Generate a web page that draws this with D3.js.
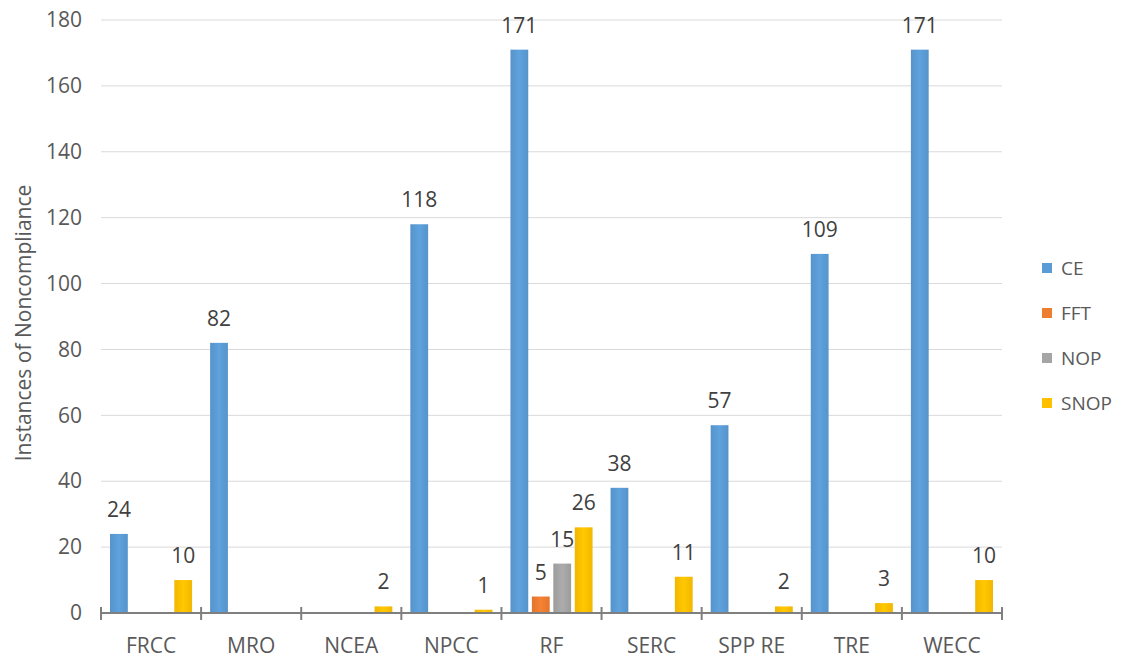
<!DOCTYPE html>
<html>
<head>
<meta charset="utf-8">
<script src="https://cdn.jsdelivr.net/npm/d3@7"></script>
<style>
  html, body { margin: 0; padding: 0; background: #fff; }
  svg { display: block; font-family: "Open Sans", "Noto Sans", sans-serif; }
</style>
</head>
<body>
<svg id="chart" width="1122" height="658"></svg>
<script>
const categories = ["FRCC", "MRO", "NCEA", "NPCC", "RF", "SERC", "SPP RE", "TRE", "WECC"];
const seriesNames = ["CE", "FFT", "NOP", "SNOP"];
const ceValues   = [24, 82, 0, 118, 171, 38, 57, 109, 171];
const fftValues  = [0, 0, 0, 0, 5, 0, 0, 0, 0];
const nopValues  = [0, 0, 0, 0, 15, 0, 0, 0, 0];
const snopValues = [10, 0, 2, 1, 26, 11, 2, 3, 10];
const yTicks = [0, 20, 40, 60, 80, 100, 120, 140, 160, 180];
const yTitle = "Instances of Noncompliance";

(function () {
const colors = { CE: "#5B9BD5", FFT: "#ED7D31", NOP: "#A5A5A5", SNOP: "#FFC000" };
const seriesValues = { CE: ceValues, FFT: fftValues, NOP: nopValues, SNOP: snopValues };

const svg = d3.select("#chart");
const mLeft = 101, mRight = 1002, mTop = 20, mBottom = 613;

const y = d3.scaleLinear().domain([0, 180]).range([mBottom, mTop]);
const x0 = d3.scaleBand().domain(categories).range([mLeft, mRight]).padding(0);
const x1 = d3.scaleBand().domain(seriesNames)
  .range([x0.step() * 0.09, x0.step() * 0.91]).paddingInner(0.17);

const defs = svg.append("defs");
seriesNames.forEach(s => {
  const g = defs.append("linearGradient").attr("id", "g-" + s)
    .attr("x1", "0").attr("x2", "1").attr("y1", "0").attr("y2", "0");
  const c = d3.color(colors[s]);
  g.append("stop").attr("offset", "0%").attr("stop-color", c.darker(0.15));
  g.append("stop").attr("offset", "50%").attr("stop-color", c.brighter(0.12));
  g.append("stop").attr("offset", "100%").attr("stop-color", c.darker(0.15));
});

svg.append("g")
  .selectAll("line").data(yTicks.filter(t => t > 0)).join("line")
  .attr("x1", mLeft).attr("x2", mRight)
  .attr("y1", d => y(d)).attr("y2", d => y(d))
  .attr("stroke", "#d9d9d9").attr("stroke-width", 1);

const yAxis = d3.axisLeft(y).tickValues(yTicks).tickSize(0).tickPadding(0);
const yg = svg.append("g").attr("transform", `translate(${mLeft - 19},0)`).call(yAxis);
yg.select(".domain").remove();
yg.selectAll("text").attr("font-size", 21).attr("fill", "#595959")
  .attr("font-family", "'Open Sans', sans-serif");

svg.append("text")
  .attr("transform", `translate(31,323) rotate(-90)`)
  .attr("text-anchor", "middle")
  .attr("font-size", 21).attr("fill", "#595959")
  .text(yTitle);

const groups = svg.append("g").selectAll("g").data(categories).join("g")
  .attr("transform", d => `translate(${x0(d)},0)`);

groups.each(function(cat, i) {
  const g = d3.select(this);
  seriesNames.forEach(s => {
    const v = seriesValues[s][i];
    if (v <= 0) return;
    g.append("rect")
      .attr("x", x1(s)).attr("width", x1.bandwidth())
      .attr("y", y(v)).attr("height", y(0) - y(v))
      .attr("fill", `url(#g-${s})`);
    g.append("text")
      .attr("x", x1(s) + x1.bandwidth() / 2)
      .attr("y", y(v) - 17)
      .attr("text-anchor", "middle")
      .attr("font-size", 21).attr("fill", "#404040")
      .text(v);
  });
});

const xAxisG = svg.append("g");
xAxisG.append("line").attr("x1", mLeft).attr("x2", mRight)
  .attr("y1", mBottom).attr("y2", mBottom)
  .attr("stroke", "#7f7f7f").attr("stroke-width", 2);
const boundaries = categories.map(c => x0(c)).concat([mRight]);
xAxisG.selectAll("line.tk").data(boundaries).join("line").attr("class", "tk")
  .attr("x1", d => d).attr("x2", d => d)
  .attr("y1", mBottom - 6).attr("y2", mBottom + 7)
  .attr("stroke", "#7f7f7f").attr("stroke-width", 2);
xAxisG.selectAll("text").data(categories).join("text")
  .attr("x", d => x0(d) + x0.bandwidth() / 2)
  .attr("y", 653)
  .attr("text-anchor", "middle")
  .attr("font-size", 21).attr("fill", "#595959")
  .text(d => d);

const legend = svg.append("g").attr("transform", "translate(1042,268)");
seriesNames.forEach((s, i) => {
  const lg = legend.append("g").attr("transform", `translate(0,${i * 45})`);
  lg.append("rect").attr("x", 0).attr("y", -5).attr("width", 10).attr("height", 10)
    .attr("fill", colors[s]);
  lg.append("text").attr("x", 19).attr("y", 7).attr("font-size", 19)
    .attr("fill", "#595959").text(s);
});
})();
</script>
</body>
</html>
